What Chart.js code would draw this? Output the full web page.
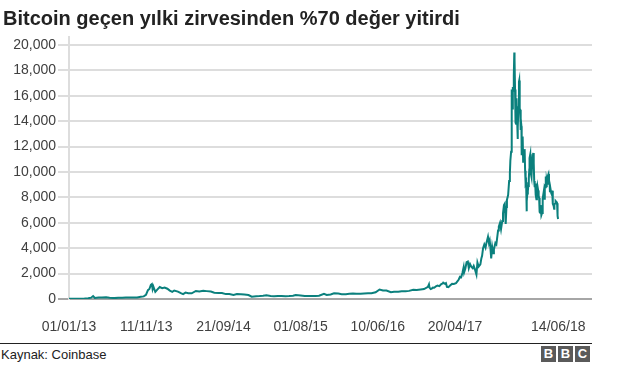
<!DOCTYPE html>
<html><head><meta charset="utf-8">
<script src="https://cdn.jsdelivr.net/npm/chart.js@4"></script>
<style>
html,body{margin:0;padding:0;background:#fff;}
body{width:624px;height:367px;position:relative;overflow:hidden;font-family:"Liberation Sans",Arial,sans-serif;}
#title{position:absolute;left:3px;top:6px;font-size:20px;font-weight:bold;color:#222;line-height:24px;white-space:nowrap;}
#wrap{position:absolute;left:0;top:0;width:624px;height:335px;}
#rule{position:absolute;left:0;top:343px;width:592px;height:1px;background:#222;}
#source{position:absolute;left:1px;top:347px;font-size:13px;color:#222;line-height:16px;}
.bbc{position:absolute;top:346px;width:15px;height:16px;background:#5a5a5a;color:#fff;font-weight:bold;font-size:13px;line-height:16px;text-align:center;}
</style></head><body>
<div id="wrap"><canvas id="c" width="624" height="335"></canvas></div>
<div id="title">Bitcoin geçen yılki zirvesinden %70 değer yitirdi</div>
<div id="rule"></div>
<div id="source">Kaynak: Coinbase</div>
<div class="bbc" style="left:541px">B</div>
<div class="bbc" style="left:558px">B</div>
<div class="bbc" style="left:575px">C</div>
<script>
// ---- data (USD, Coinbase) ----
const d13 = ['2013-01-01','2013-01-20','2013-02-05','2013-02-20','2013-03-05','2013-03-20','2013-04-01','2013-04-09','2013-04-16','2013-05-01','2013-05-15','2013-06-01','2013-06-15','2013-07-05','2013-07-20','2013-08-05','2013-08-20','2013-09-05','2013-09-20','2013-10-05','2013-10-20','2013-11-01','2013-11-10','2013-11-18','2013-11-24','2013-11-30','2013-12-04','2013-12-07','2013-12-10','2013-12-18','2013-12-26'];
const p13 = [13,16,21,29,40,63,104,230,80,117,114,129,100,70,90,105,120,125,126,122,180,205,330,700,790,1120,1180,780,980,560,740];
const d14 = ['2014-01-05','2014-01-15','2014-01-25','2014-02-05','2014-02-15','2014-02-25','2014-03-05','2014-03-20','2014-04-01','2014-04-10','2014-04-20','2014-05-01','2014-05-15','2014-06-01','2014-06-15','2014-07-01','2014-07-15','2014-08-01','2014-08-15','2014-09-01','2014-09-15','2014-10-01','2014-10-15','2014-11-01','2014-11-15','2014-12-01','2014-12-15'];
const p14 = [940,850,900,810,660,560,670,580,460,380,500,450,445,630,590,640,620,590,500,475,470,385,395,325,395,380,350];
const d15 = ['2015-01-01','2015-01-14','2015-02-01','2015-02-15','2015-03-01','2015-03-15','2015-04-01','2015-04-15','2015-05-01','2015-05-15','2015-06-01','2015-06-15','2015-07-01','2015-07-12','2015-08-01','2015-08-18','2015-09-01','2015-09-15','2015-10-01','2015-10-15','2015-11-04','2015-11-15','2015-12-01','2015-12-15'];
const p15 = [315,180,225,235,255,285,245,220,232,237,225,237,258,310,282,235,230,230,238,254,410,320,360,455];
const d16 = ['2016-01-01','2016-01-15','2016-02-01','2016-02-15','2016-03-01','2016-03-15','2016-04-01','2016-04-15','2016-05-01','2016-05-15','2016-06-01','2016-06-17','2016-07-01','2016-07-15','2016-08-02','2016-08-15','2016-09-01','2016-09-15','2016-10-01','2016-10-15','2016-11-01','2016-11-15','2016-12-01','2016-12-15','2016-12-31'];
const p16 = [432,380,370,405,435,415,417,430,450,455,535,750,675,665,530,570,575,608,615,640,730,710,755,780,965];
const d17 = ['2017-01-04','2017-01-06','2017-01-11','2017-01-15','2017-01-20','2017-01-25','2017-02-01','2017-02-08','2017-02-15','2017-02-23','2017-03-01','2017-03-03','2017-03-10','2017-03-14','2017-03-18','2017-03-24','2017-04-01','2017-04-08','2017-04-15','2017-04-24','2017-05-01','2017-05-05','2017-05-10','2017-05-15','2017-05-20','2017-05-25','2017-05-27','2017-06-01','2017-06-06','2017-06-11','2017-06-15','2017-06-20','2017-06-25','2017-07-01','2017-07-05','2017-07-10','2017-07-16','2017-07-20','2017-07-25','2017-08-01','2017-08-05','2017-08-08','2017-08-12','2017-08-17','2017-08-22','2017-08-25','2017-09-01','2017-09-05','2017-09-08','2017-09-10','2017-09-14','2017-09-18','2017-09-22','2017-09-25','2017-10-01','2017-10-05','2017-10-12','2017-10-15','2017-10-20','2017-10-24','2017-10-29','2017-11-01','2017-11-05','2017-11-08','2017-11-12','2017-11-15','2017-11-17','2017-11-22','2017-11-26','2017-11-29','2017-12-01','2017-12-04','2017-12-06','2017-12-07','2017-12-09','2017-12-11','2017-12-13','2017-12-15','2017-12-17','2017-12-18','2017-12-20','2017-12-22','2017-12-24','2017-12-26','2017-12-28','2017-12-30','2017-12-31'];
const p17 = [1150,900,780,820,895,890,990,1050,1010,1180,1225,1280,1190,1245,960,935,1080,1190,1185,1250,1420,1540,1750,1720,2050,2500,2100,2400,2900,2950,2430,2750,2550,2420,2600,2330,1930,2870,2550,2730,3200,3400,4000,4300,4050,4350,4900,4400,4600,4250,3200,4090,3600,3900,4400,4300,5400,5700,6000,5500,6150,6750,7400,7500,5900,7250,7800,8200,9300,9900,10900,11600,13800,16500,15000,16700,16400,17600,19400,18900,16500,13900,13800,15800,14400,12600,14000];
const d18 = ['2018-01-01','2018-01-03','2018-01-05','2018-01-06','2018-01-08','2018-01-10','2018-01-11','2018-01-13','2018-01-15','2018-01-16','2018-01-18','2018-01-20','2018-01-22','2018-01-24','2018-01-26','2018-01-28','2018-01-30','2018-02-01','2018-02-03','2018-02-05','2018-02-06','2018-02-08','2018-02-10','2018-02-12','2018-02-14','2018-02-16','2018-02-17','2018-02-20','2018-02-22','2018-02-25','2018-02-27','2018-03-01','2018-03-04','2018-03-06','2018-03-08','2018-03-10','2018-03-12','2018-03-14','2018-03-17','2018-03-19','2018-03-21','2018-03-24','2018-03-26','2018-03-28','2018-03-30','2018-04-01','2018-04-03','2018-04-06','2018-04-09','2018-04-11','2018-04-12','2018-04-15','2018-04-17','2018-04-20','2018-04-22','2018-04-24','2018-04-25','2018-04-28','2018-05-01','2018-05-03','2018-05-05','2018-05-07','2018-05-10','2018-05-11','2018-05-13','2018-05-16','2018-05-18','2018-05-20','2018-05-22','2018-05-23','2018-05-26','2018-05-28','2018-05-29','2018-06-01','2018-06-03','2018-06-06','2018-06-08','2018-06-09','2018-06-10','2018-06-12','2018-06-13'];
const p18 = [13500,15100,17100,17200,15000,14900,13300,14200,13600,11400,11400,12800,10800,11300,11100,11800,10100,9100,9200,6900,7700,8300,8500,8900,9500,10200,11100,11400,9900,9600,10600,10900,11500,10700,9300,8800,9100,8200,7850,8600,8900,8550,8150,7950,6850,6800,7400,6600,6770,6930,7900,8350,7900,8860,8800,9650,8870,9350,9070,9740,9850,9370,9000,8400,8700,8350,8250,8530,7990,7500,7340,7110,7470,7520,7720,7650,7620,7530,6770,6550,6300];

const yTicks = [0,2000,4000,6000,8000,10000,12000,14000,16000,18000,20000];
const xTickDates = ['2013-01-01','2013-11-11','2014-09-21','2015-08-01','2016-06-10','2017-04-20','2018-06-14'];
const xTickLabels = ['01/01/13','11/11/13','21/09/14','01/08/15','10/06/16','20/04/17','14/06/18'];

// ---- build ----
const origin = Date.UTC(2013,0,1);
function dayOf(s){const [y,m,d]=s.split('-').map(Number);return (Date.UTC(y,m-1,d)-origin)/86400000;}
const allDates = [].concat(d13,d14,d15,d16,d17,d18);
const allPrices = [].concat(p13,p14,p15,p16,p17,p18);
const points = allDates.map((d,i)=>({x:dayOf(d),y:allPrices[i]}));

const FONT = '"Liberation Sans", Arial, sans-serif';
new Chart(document.getElementById('c'),{
  type:'line',
  data:{datasets:[{data:points,borderColor:'#0b807d',borderWidth:2,pointRadius:0,tension:0,fill:false}]},
  options:{
    responsive:false,animation:false,devicePixelRatio:1,
    layout:{padding:{top:37,right:32,left:0,bottom:0}},
    plugins:{legend:{display:false},tooltip:{enabled:false},title:{display:false}},
    scales:{
      x:{type:'linear',min:0,max:dayOf('2018-10-29'),
        afterBuildTicks:s=>{s.ticks=xTickDates.map(d=>({value:dayOf(d)}));},
        ticks:{autoSkip:false,maxRotation:0,minRotation:0,padding:12,color:'#404040',font:{family:FONT,size:14},
          callback:(v,i)=>xTickLabels[i]},
        grid:{display:false},border:{display:false},
        afterFit:s=>{s.height=36;}
      },
      y:{min:0,max:20630,
        afterBuildTicks:s=>{s.ticks=yTicks.map(v=>({value:v}));},
        ticks:{padding:2,color:'#404040',font:{family:FONT,size:14},callback:v=>v.toLocaleString('en-US')},
        grid:{color:c=>(c.tick&&c.tick.value===0)?'#a6a6a6':'#dddddd',lineWidth:2,tickLength:11,drawTicks:true},
        border:{display:true,color:'#dddddd',width:2},
        afterFit:s=>{s.width=69;}
      }
    }
  }
});
</script>
</body></html>
